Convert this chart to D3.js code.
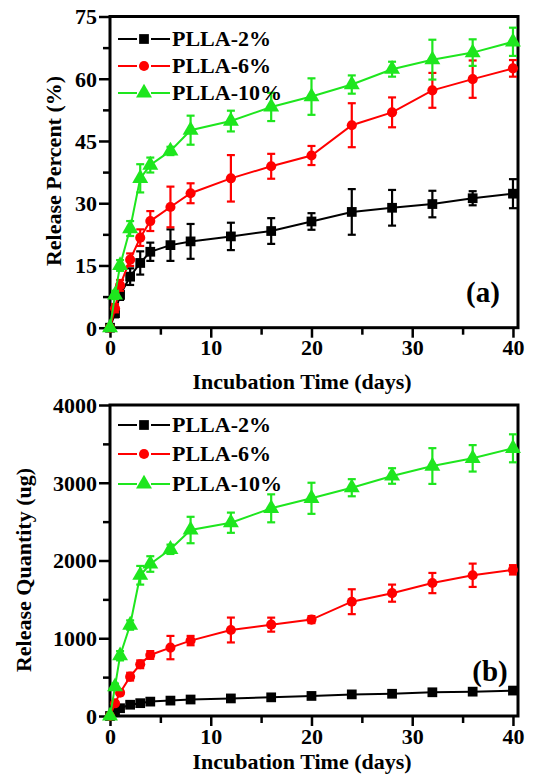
<!DOCTYPE html>
<html>
<head>
<meta charset="utf-8">
<script src="https://cdn.jsdelivr.net/npm/d3@7"></script>
<style>
  body { margin: 0; background: #fff; }
</style>
</head>
<body>
<div id="chart"></div>
<script>
// sampling days (shared by every series)
var days = [0, 0.5, 1, 2, 3, 4, 6, 8, 12, 16, 20, 24, 28, 32, 36, 40];

// (a) release percent
var pct2 = [0, 3.5, 7.9, 12.3, 15.6, 18.3, 19.9, 20.8, 22.0, 23.3, 25.6, 27.9, 28.9, 29.8, 31.2, 32.3];
var pct2Err = [0, 1, 1.2, 2, 2.8, 2.2, 3.8, 4.2, 3.3, 3.1, 2, 5.5, 4.3, 3.2, 1.7, 3.5];
var pct6 = [0, 4.7, 10.2, 16.4, 21.7, 25.7, 29.1, 32.4, 36.0, 38.9, 41.5, 48.8, 51.9, 57.2, 59.9, 62.5];
var pct6Err = [0, 1, 1.3, 1.5, 2, 2.4, 4.9, 2.4, 5.6, 3, 2.3, 5.3, 3.6, 4.2, 4.5, 2];
var pct10 = [0, 7.9, 15, 23.9, 36, 39.2, 42.6, 47.6, 49.8, 53.2, 55.7, 58.6, 62.3, 64.6, 66.3, 68.9];
var pct10Err = [0, 1, 1.3, 1.8, 3.4, 1.8, 1, 3.5, 2.5, 3.4, 4.4, 2.2, 1.8, 4.8, 3.2, 3.4];

// (b) release quantity (ug)
var qty2 = [0, 55, 100, 145, 165, 185, 198, 212, 226, 240, 258, 278, 286, 305, 313, 327];
var qty2Err = [0, 10, 15, 15, 20, 20, 20, 25, 25, 25, 25, 25, 25, 25, 25, 25];
var qty6 = [0, 163, 300, 506, 665, 785, 880, 970, 1106, 1175, 1240, 1470, 1580, 1710, 1810, 1880];
var qty6Err = [0, 20, 30, 50, 50, 50, 150, 60, 160, 90, 45, 160, 110, 130, 150, 60];
var qty10 = [0, 377, 775, 1170, 1810, 1955, 2144, 2392, 2486, 2671, 2800, 2936, 3087, 3215, 3314, 3443];
var qty10Err = [0, 40, 60, 60, 120, 100, 60, 170, 130, 180, 200, 110, 100, 230, 170, 180];

var seriesNames = ["PLLA-2%", "PLLA-6%", "PLLA-10%"];
var seriesColors = ["#000000", "#ff0000", "#1ee61e"];
var seriesShapes = [d3.symbolSquare, d3.symbolCircle, d3.symbolTriangle];
var shapeSizes = [95, 80, 110];

var xTicks = [0, 10, 20, 30, 40];
var xMinor = [5, 15, 25, 35];

var serif = "'Liberation Serif', 'Tinos', 'Times New Roman', 'DejaVu Serif', serif";

var svg = d3.select("#chart").append("svg")
    .attr("width", 533)
    .attr("height", 775);

var xLeft = 110, xRight = 518;

function styleText(sel, size) {
  sel.attr("font-family", null)
     .style("font-family", serif)
     .style("font-weight", "bold")
     .style("font-size", size + "px");
}

function drawPanel(p) {
  var x = d3.scaleLinear().domain([0, 40.5]).range([xLeft, xRight]);
  var y = d3.scaleLinear().domain(p.yDomain).range([p.bottom, p.top]);
  var g = svg.append("g");

  // minor ticks
  g.append("g")
      .attr("transform", "translate(" + xLeft + ",0)")
      .call(d3.axisLeft(y).tickValues(p.yMinor).tickSize(7).tickFormat(""))
      .call(function(a) { a.select(".domain").remove(); a.selectAll("line").attr("stroke-width", 2.5); });
  g.append("g")
      .attr("transform", "translate(0," + p.bottom + ")")
      .call(d3.axisBottom(x).tickValues(xMinor).tickSize(7).tickFormat(""))
      .call(function(a) { a.select(".domain").remove(); a.selectAll("line").attr("stroke-width", 2.5); });

  // major ticks + labels
  var ya = g.append("g")
      .attr("transform", "translate(" + xLeft + ",0)")
      .call(d3.axisLeft(y).tickValues(p.yTicks).tickFormat(d3.format("d"))
        .tickSize(11).tickSizeOuter(0).tickPadding(2));
  ya.select(".domain").remove();
  ya.selectAll("line").attr("stroke-width", 2.5);
  styleText(ya.selectAll("text").attr("dy", "0.34em"), 22);

  var xa = g.append("g")
      .attr("transform", "translate(0," + p.bottom + ")")
      .call(d3.axisBottom(x).tickValues(xTicks).tickSize(10).tickSizeOuter(0).tickPadding(2));
  xa.select(".domain").remove();
  xa.selectAll("line").attr("stroke-width", 2.5);
  styleText(xa.selectAll("text"), 22);

  // frame
  g.append("rect")
      .attr("x", xLeft).attr("y", p.top)
      .attr("width", xRight - xLeft).attr("height", p.bottom - p.top)
      .attr("fill", "none").attr("stroke", "#000").attr("stroke-width", 3);

  // series
  var line = d3.line().x(function(d) { return x(d.t); }).y(function(d) { return y(d.v); });
  p.series.forEach(function(s, i) {
    var pts = days.map(function(t, k) { return {t: t, v: s.vals[k], e: s.errs[k]}; });
    var sg = g.append("g").attr("stroke", seriesColors[i]).attr("fill", seriesColors[i]);

    sg.append("path").datum(pts)
        .attr("d", line).attr("fill", "none").attr("stroke-width", 2);

    var eb = sg.selectAll(".eb").data(pts.filter(function(d) { return d.e > 0; }))
      .enter().append("g");
    eb.append("line")
        .attr("x1", function(d) { return x(d.t); }).attr("x2", function(d) { return x(d.t); })
        .attr("y1", function(d) { return y(d.v - d.e); }).attr("y2", function(d) { return y(d.v + d.e); })
        .attr("stroke-width", 2.2);
    eb.append("line")
        .attr("x1", function(d) { return x(d.t) - 4; }).attr("x2", function(d) { return x(d.t) + 4; })
        .attr("y1", function(d) { return y(d.v + d.e); }).attr("y2", function(d) { return y(d.v + d.e); })
        .attr("stroke-width", 2.2);
    eb.append("line")
        .attr("x1", function(d) { return x(d.t) - 4; }).attr("x2", function(d) { return x(d.t) + 4; })
        .attr("y1", function(d) { return y(d.v - d.e); }).attr("y2", function(d) { return y(d.v - d.e); })
        .attr("stroke-width", 2.2);

    sg.selectAll(".pt").data(pts).enter().append("path")
        .attr("d", d3.symbol().type(seriesShapes[i]).size(shapeSizes[i]))
        .attr("stroke", "none")
        .attr("transform", function(d) { return "translate(" + x(d.t) + "," + y(d.v) + ")"; });
  });

  // legend
  seriesNames.forEach(function(name, i) {
    var ly = p.legendY[i];
    var lg = g.append("g").attr("stroke", seriesColors[i]).attr("fill", seriesColors[i]);
    lg.append("line").attr("x1", 118).attr("x2", 137).attr("y1", ly).attr("y2", ly).attr("stroke-width", 2);
    lg.append("line").attr("x1", 151).attr("x2", 170).attr("y1", ly).attr("y2", ly).attr("stroke-width", 2);
    lg.append("path")
        .attr("d", d3.symbol().type(seriesShapes[i]).size(shapeSizes[i]))
        .attr("stroke", "none")
        .attr("transform", "translate(144," + ly + ")");
    styleText(g.append("text").attr("x", 172).attr("y", ly + 7).text(name), 22);
  });

  // panel tag
  styleText(g.append("text").attr("x", p.tagX).attr("y", p.tagY)
      .attr("text-anchor", "middle").text(p.tag), 29);

  // axis titles
  styleText(g.append("text").attr("x", 302).attr("y", p.xTitleY)
      .attr("text-anchor", "middle").text("Incubation Time (days)"), 22);
  styleText(g.append("text")
      .attr("transform", "translate(" + p.yTitleX + "," + p.yTitleMid + ") rotate(-90)")
      .attr("text-anchor", "middle").text(p.yTitle), 22);
}

drawPanel({
  top: 16.5, bottom: 327.7,
  yDomain: [0, 75],
  yTicks: [0, 15, 30, 45, 60, 75],
  yMinor: [7.5, 22.5, 37.5, 52.5, 67.5],
  series: [{vals: pct2, errs: pct2Err}, {vals: pct6, errs: pct6Err}, {vals: pct10, errs: pct10Err}],
  legendY: [39, 66, 93],
  tag: "(a)", tagX: 483, tagY: 302,
  xTitleY: 389,
  yTitle: "Release Percent (%)", yTitleX: 61, yTitleMid: 171
});

drawPanel({
  top: 405, bottom: 716,
  yDomain: [0, 4000],
  yTicks: [0, 1000, 2000, 3000, 4000],
  yMinor: [500, 1500, 2500, 3500],
  series: [{vals: qty2, errs: qty2Err}, {vals: qty6, errs: qty6Err}, {vals: qty10, errs: qty10Err}],
  legendY: [425, 454, 484],
  tag: "(b)", tagX: 490, tagY: 681,
  xTitleY: 769,
  yTitle: "Release Quantity (ug)", yTitleX: 31, yTitleMid: 570
});
</script>
</body>
</html>
